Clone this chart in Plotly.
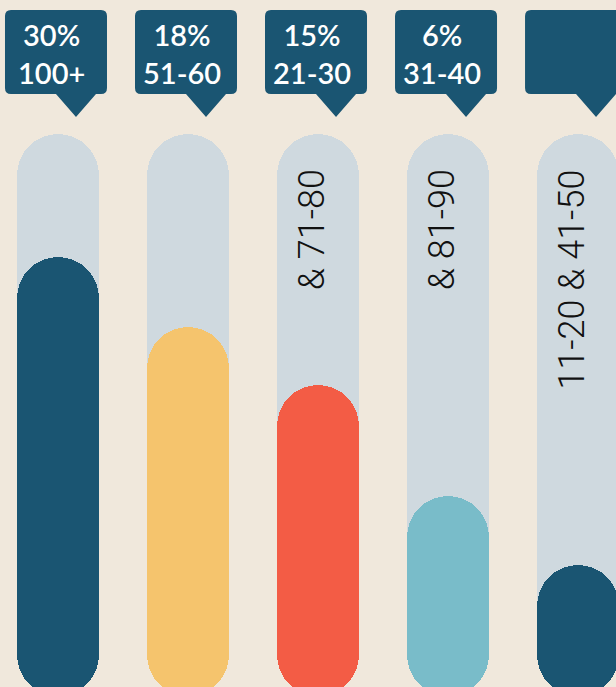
import plotly.graph_objects as go

# share of each group (callout) and how full each pill is (0 = bottom, 100 = top of track)
pct_labels = ["30%", "18%", "15%", "6%", ""]
range_labels = ["100+", "51-60", "21-30", "31-40", ""]
inner_labels = ["", "", "& 71-80", "& 81-90", "11-20 & 41-50"]
fill_levels = [78.1, 65.7, 55.3, 35.6, 23.3]
fill_colors = ["#1A5572", "#F5C46D", "#F35C45", "#79BCC9", "#1A5572"]

BG = "#F0E8DC"
TRACK = "#CFD9DF"
CALLOUT = "#1A5572"
TRACK_TOP = 100
BAR_W = 0.631

xs = list(range(len(fill_levels)))

fig = go.Figure()

# grey track (explicit base -> both ends rounded)
fig.add_trace(go.Bar(
    x=xs, y=[TRACK_TOP] * len(xs), base=[0] * len(xs),
    width=BAR_W, marker=dict(color=TRACK, cornerradius="50%", line_width=0),
    hoverinfo="skip"))
# coloured fill
fig.add_trace(go.Bar(
    x=xs, y=fill_levels, base=[0] * len(xs),
    width=BAR_W, marker=dict(color=fill_colors, cornerradius="50%", line_width=0),
    hoverinfo="skip"))

# speech-bubble callouts above each pill (pixels relative to bar centre / top of plot)
bubble = ("M -47,-10 L 43,-10 Q 49,-10 49,-16 L 49,-88 Q 49,-94 43,-94 "
          "L 38,-94 L 18,-117 L -2,-94 L -47,-94 Q -53,-94 -53,-88 "
          "L -53,-16 Q -53,-10 -47,-10 Z")
for i in xs:
    fig.add_shape(type="path", path=bubble, xref="x", yref="paper",
                  xsizemode="pixel", ysizemode="pixel", xanchor=i, yanchor=1,
                  fillcolor=CALLOUT, line_width=0, layer="above")
    if pct_labels[i]:
        fig.add_annotation(x=i, y=1, xref="x", yref="paper", xanchor="center",
                           yanchor="middle", xshift=-6, yshift=-53, showarrow=False,
                           text=pct_labels[i] + "<br>" + range_labels[i],
                           font=dict(family="Lato", size=29, color="white", weight=600))
    if inner_labels[i]:
        fig.add_annotation(x=i, y=94.0, xref="x", yref="y", textangle=-90,
                           xanchor="center", yanchor="top", xshift=-6, showarrow=False,
                           text=inner_labels[i],
                           font=dict(family="Roboto", size=36, color="#111111", weight=300))

fig.update_layout(
    width=616, height=687,
    margin=dict(l=0, r=0, t=0, b=0),
    paper_bgcolor=BG, plot_bgcolor=BG,
    barmode="overlay", bargap=0, showlegend=False,
    xaxis=dict(range=[-0.446, 4.292], visible=False, fixedrange=True),
    yaxis=dict(range=[1.6, 123.84], visible=False, fixedrange=True),
)

fig.write_html("out.html", config={"displayModeBar": False},
               post_script="document.body.style.margin='0';")
